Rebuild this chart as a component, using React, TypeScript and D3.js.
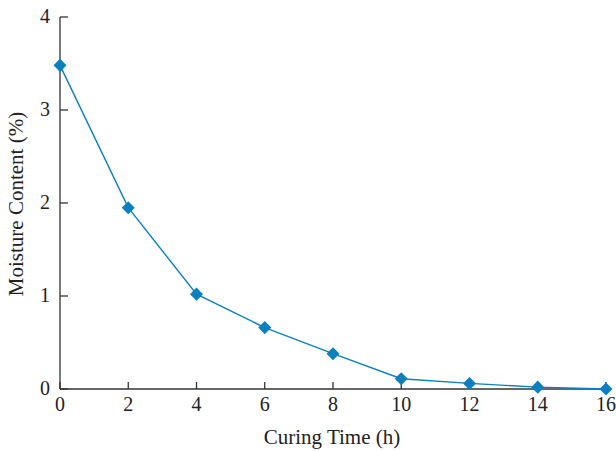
import React from "react";
import * as d3 from "d3";

const curingTime = [0, 2, 4, 6, 8, 10, 12, 14, 16];
const moisture = [3.48, 1.95, 1.02, 0.66, 0.38, 0.11, 0.06, 0.02, 0.0];
const xTicks = [0, 2, 4, 6, 8, 10, 12, 14, 16];
const yTicks = [0, 1, 2, 3, 4];

export default function App() {
  const W = 616, H = 451;
  const x = d3.scaleLinear().domain([0, 16]).range([60, 606]);
  const y = d3.scaleLinear().domain([0, 4]).range([389, 17]);
  const color = "#0a80c0";
  const font = "'Liberation Serif', 'Times New Roman', serif";
  const line = d3.line<number>().x((d, i) => x(curingTime[i])).y(d => y(d));
  const sym = d3.symbol().type(d3.symbolSquare).size(85);
  return (
    <svg width={W} height={H} style={{ position: "absolute", left: 0, top: 0 }}>
      <rect width={W} height={H} fill="#fff" />
      <g stroke="#333" strokeWidth={1.3} fill="none">
        <line x1={x(0)} x2={x(0)} y1={y(4)} y2={y(0)} />
        <line x1={x(0)} x2={x(16)} y1={y(0)} y2={y(0)} />
        {yTicks.map(t => (
          <line key={"yt" + t} x1={x(0)} x2={x(0) + 8} y1={y(t)} y2={y(t)} />
        ))}
        {xTicks.map(t => (
          <line key={"xt" + t} x1={x(t)} x2={x(t)} y1={y(0)} y2={y(0) - 7} />
        ))}
      </g>
      <g fontFamily={font} fontSize={20} fill="#222">
        {yTicks.map(t => (
          <text key={"yl" + t} x={x(0) - 10} y={y(t) + 6} textAnchor="end">{t}</text>
        ))}
        {xTicks.map(t => (
          <text key={"xl" + t} x={x(t)} y={y(0) + 22} textAnchor="middle">{t}</text>
        ))}
        <text x={332} y={444} textAnchor="middle" fontSize={21}>Curing Time (h)</text>
        <text transform={`translate(23,204) rotate(-90)`} textAnchor="middle" fontSize={21}>Moisture Content (%)</text>
      </g>
      <path d={line(moisture) || ""} fill="none" stroke={color} strokeWidth={1.4} />
      {moisture.map((v, i) => (
        <path key={"m" + i} d={sym() || ""} transform={`translate(${x(curingTime[i])},${y(v)}) rotate(45)`} fill={color} />
      ))}
    </svg>
  );
}
